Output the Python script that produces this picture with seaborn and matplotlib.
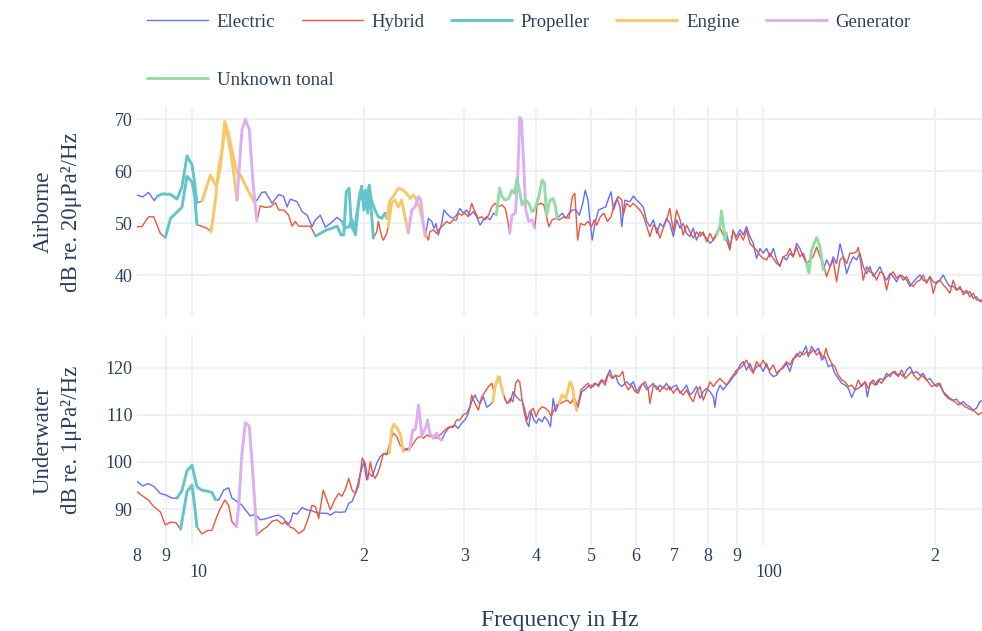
import matplotlib
matplotlib.use("Agg")
import matplotlib.pyplot as plt
from matplotlib.lines import Line2D
from matplotlib.transforms import ScaledTranslation
import pandas as pd
import seaborn as sns

# spectra: (frequency in Hz, level in dB)
air_electric = [
    (8.0, 55.4), (8.2, 55.0), (8.39, 55.9), (8.59, 54.3), (8.68, 55.1), (8.86, 55.6), (9.17, 55.5),
    (9.41, 54.6), (9.6, 56.9), (9.8, 62.9), (10.0, 61.2), (10.11, 57.6), (10.2, 53.9), (10.41, 54.2),
    (10.77, 59.2), (11.03, 57.1), (11.21, 60.5), (11.41, 69.5), (11.59, 67.2), (11.75, 64.0),
    (11.99, 59.6), (12.15, 59.2), (12.4, 57.3), (12.65, 55.4), (12.85, 54.1), (12.99, 54.4),
    (13.26, 55.9), (13.44, 56.0), (13.81, 53.8), (14.19, 55.5), (14.47, 55.1), (14.67, 53.1),
    (14.87, 54.6), (15.27, 54.1), (15.59, 52.2), (15.91, 51.5), (16.23, 49.3), (16.45, 50.6),
    (16.78, 51.5), (17.12, 49.2), (17.47, 49.9), (17.95, 51.1), (18.31, 50.3), (18.56, 49.0),
    (18.82, 49.3), (19.07, 50.6), (19.33, 47.7), (19.6, 54.4), (19.82, 57.1), (20.0, 52.5),
    (20.22, 54.4), (20.42, 57.0), (20.61, 54.4), (20.92, 52.5), (21.2, 51.2), (21.49, 50.9),
    (21.78, 51.9), (21.93, 50.9), (22.22, 54.4), (22.52, 55.1), (22.98, 56.7), (23.45, 56.3),
    (23.77, 55.7), (24.1, 54.7), (24.43, 55.4), (24.76, 54.4), (25.1, 52.5), (25.37, 50.3),
    (25.61, 47.4), (25.95, 50.9), (26.3, 50.3), (26.54, 49.0), (26.76, 49.9), (27.0, 47.7),
    (27.37, 49.9), (27.62, 52.5), (27.92, 51.9), (28.3, 51.2), (28.67, 50.9), (29.06, 51.5),
    (29.46, 52.8), (29.86, 51.9), (30.27, 52.5), (30.68, 51.5), (31.1, 52.2), (31.52, 51.2),
    (31.96, 49.6), (32.39, 50.6), (32.83, 51.2), (33.28, 50.6), (33.74, 51.9), (34.11, 51.5),
    (34.57, 56.7), (34.9, 55.1), (35.38, 54.4), (35.86, 54.7), (36.35, 56.3), (36.7, 55.7),
    (37.1, 58.6), (37.45, 56.3), (37.86, 53.5), (38.37, 54.4), (38.9, 53.8), (39.42, 52.2),
    (39.8, 52.5), (40.5, 55.1), (41.05, 58.3), (41.44, 57.6), (41.78, 51.5), (42.35, 54.4),
    (42.92, 54.7), (43.33, 53.1), (43.62, 50.9), (44.52, 51.9), (45.13, 50.9), (45.75, 51.9),
    (46.38, 52.5), (47.03, 52.5), (47.69, 51.5), (48.36, 53.8), (48.84, 56.3), (49.39, 54.4),
    (49.74, 50.9), (50.23, 46.7), (50.8, 49.9), (51.53, 52.5), (52.28, 52.8), (53.04, 53.1),
    (53.81, 55.1), (54.2, 56.0), (54.75, 52.5), (55.56, 54.7), (56.19, 53.1), (56.6, 49.3),
    (57.3, 54.4), (58.5, 54.1), (59.3, 55.2), (60.1, 54.4), (60.9, 53.8), (61.7, 53.1), (62.6, 50.3),
    (63.4, 49.3), (64.3, 50.6), (65.2, 48.0), (66.0, 49.9), (66.9, 49.3), (67.8, 50.9), (68.7, 49.9),
    (69.7, 47.4), (70.6, 50.6), (71.6, 49.0), (72.5, 49.9), (73.5, 48.0), (74.5, 47.4), (75.5, 49.0),
    (76.5, 46.7), (77.6, 48.3), (78.6, 47.7), (79.7, 47.1), (80.8, 46.1), (81.9, 46.7), (83.0, 47.7),
    (84.1, 49.5), (84.6, 52.3), (85.2, 49.9), (85.8, 46.8), (86.4, 48.0), (87.5, 45.4), (88.7, 48.3),
    (89.9, 47.4), (91.2, 48.7), (92.4, 47.7), (93.6, 49.3), (94.9, 47.4), (96.2, 46.1), (97.5, 43.2),
    (98.8, 45.1), (100.1, 44.2), (101.5, 45.1), (102.9, 43.5), (104.3, 45.1), (105.7, 42.9),
    (107.1, 41.6), (108.5, 43.5), (110.0, 42.9), (111.5, 44.2), (113.0, 43.5), (114.6, 46.1),
    (116.1, 45.1), (117.7, 43.5), (119.3, 42.2), (120.4, 40.4), (121.7, 44.8), (124.2, 47.2),
    (125.9, 45.4), (127.6, 41.0), (129.3, 42.9), (131.1, 41.6), (132.8, 43.5), (134.6, 42.2),
    (136.5, 46.0), (138.3, 43.5), (140.2, 40.3), (142.1, 42.2), (144.0, 43.5), (145.9, 42.9),
    (147.9, 44.2), (149.9, 41.6), (152.0, 40.3), (154.0, 41.6), (156.1, 39.7), (158.2, 40.6),
    (160.3, 41.6), (162.5, 40.0), (164.7, 39.0), (167.0, 40.3), (169.2, 39.7), (171.5, 38.7),
    (173.9, 40.0), (176.2, 39.7), (178.6, 39.0), (181.0, 37.8), (183.5, 38.7), (185.9, 39.4),
    (188.4, 40.0), (190.9, 39.0), (193.5, 38.7), (196.2, 39.7), (198.8, 38.7), (201.5, 38.4),
    (204.2, 39.0), (207.0, 40.0), (209.8, 38.7), (212.6, 37.8), (215.5, 37.8), (218.4, 37.1),
    (221.4, 37.4), (224.4, 36.8), (227.4, 36.5), (230.4, 36.8), (233.6, 35.5), (236.7, 35.8),
    (240.0, 34.9), (242.0, 35.3),
]

air_hybrid = [
    (8.0, 49.3), (8.17, 49.3), (8.39, 51.2), (8.57, 51.2), (8.8, 48.0), (8.98, 47.2), (9.17, 50.9),
    (9.37, 51.9), (9.6, 53.0), (9.8, 59.0), (10.0, 57.9), (10.11, 55.1), (10.2, 49.7), (10.62, 49.0),
    (10.8, 48.3), (10.99, 54.4), (11.14, 60.8), (11.29, 64.0), (11.41, 67.9), (11.52, 67.2),
    (11.67, 64.0), (11.83, 59.6), (11.99, 54.4), (12.23, 67.9), (12.4, 69.9), (12.6, 68.0),
    (12.79, 57.6), (12.99, 50.4), (13.17, 53.3), (13.44, 53.0), (13.72, 53.1), (14.0, 53.9),
    (14.19, 52.5), (14.47, 52.5), (14.77, 51.5), (14.97, 49.4), (15.17, 50.3), (15.38, 49.4),
    (15.69, 49.4), (16.12, 49.4), (16.45, 47.5), (16.78, 48.0), (17.23, 48.7), (17.6, 49.0),
    (17.95, 49.4), (18.24, 47.7), (18.44, 47.7), (18.63, 56.0), (18.84, 56.7), (19.02, 49.3),
    (19.25, 48.3), (19.45, 51.9), (19.72, 56.0), (19.93, 54.4), (20.12, 56.3), (20.31, 51.9),
    (20.45, 57.3), (20.62, 51.9), (20.78, 47.1), (21.06, 48.3), (21.2, 50.3), (21.49, 47.4),
    (21.64, 46.7), (21.93, 48.0), (22.07, 49.3), (22.37, 53.8), (22.67, 54.4), (22.98, 53.1),
    (23.29, 54.4), (23.61, 51.2), (23.93, 48.1), (24.26, 52.5), (24.59, 53.1), (24.93, 55.1),
    (25.17, 54.4), (25.44, 49.3), (25.71, 47.7), (25.95, 46.7), (26.1, 48.3), (26.47, 48.7),
    (26.82, 48.0), (27.18, 49.0), (27.55, 49.6), (27.92, 50.3), (28.3, 49.9), (28.67, 50.6),
    (29.06, 50.6), (29.26, 51.9), (29.66, 51.5), (30.07, 51.9), (30.48, 51.2), (30.89, 53.8),
    (31.31, 52.2), (31.74, 50.9), (32.17, 51.2), (32.61, 50.6), (33.06, 51.5), (33.51, 53.1),
    (33.97, 53.8), (34.43, 53.1), (34.9, 53.5), (35.38, 52.8), (35.72, 50.6), (36.01, 48.0),
    (36.35, 51.5), (36.85, 51.9), (37.2, 58.9), (37.5, 70.3), (37.76, 69.8), (38.12, 60.8),
    (38.42, 52.5), (38.9, 50.3), (39.42, 50.6), (39.85, 49.0), (40.23, 53.5), (40.78, 53.8),
    (41.33, 53.5), (41.78, 51.2), (42.18, 49.3), (42.75, 50.6), (43.33, 50.9), (43.92, 50.6),
    (44.82, 51.2), (45.75, 50.9), (46.38, 55.1), (46.83, 55.7), (47.36, 46.7), (47.89, 49.9),
    (48.7, 49.6), (49.39, 50.3), (50.09, 49.3), (50.66, 50.6), (51.17, 49.6), (51.9, 51.2),
    (52.66, 51.9), (53.42, 50.3), (54.2, 51.2), (54.99, 53.8), (55.8, 55.1), (56.6, 54.4),
    (56.9, 51.5), (57.7, 53.8), (58.5, 53.1), (59.3, 53.8), (60.1, 53.1), (60.9, 52.5), (61.7, 51.5),
    (62.6, 49.3), (63.4, 47.4), (64.3, 49.6), (65.2, 49.0), (66.0, 47.1), (66.9, 49.0), (67.8, 50.6),
    (68.7, 52.8), (69.7, 48.3), (70.6, 52.5), (71.6, 50.6), (72.5, 47.7), (73.5, 49.6), (74.5, 48.3),
    (75.5, 47.1), (76.5, 48.3), (77.6, 47.4), (78.6, 48.3), (79.7, 46.4), (80.8, 48.0), (81.9, 46.7),
    (83.0, 48.3), (84.1, 49.0), (85.2, 47.7), (86.4, 46.7), (87.5, 44.8), (88.7, 48.7), (89.9, 46.7),
    (91.2, 48.0), (92.4, 46.7), (93.6, 48.7), (94.9, 46.1), (96.2, 45.4), (97.5, 44.8), (98.8, 43.8),
    (100.1, 43.2), (101.5, 42.9), (102.9, 44.2), (104.3, 43.2), (105.7, 42.2), (107.1, 41.9),
    (108.5, 43.5), (110.0, 43.8), (111.5, 45.1), (113.0, 43.5), (114.6, 45.4), (116.1, 43.5),
    (117.7, 44.2), (119.3, 42.2), (120.9, 42.9), (122.5, 43.5), (124.2, 45.4), (125.9, 43.5),
    (127.6, 42.2), (129.3, 39.7), (131.1, 41.6), (132.8, 42.9), (134.6, 38.7), (136.5, 42.9),
    (138.3, 43.5), (140.2, 42.2), (142.1, 44.2), (144.0, 44.2), (145.9, 44.5), (146.9, 45.3),
    (147.9, 43.5), (149.9, 39.0), (152.0, 41.6), (154.0, 40.6), (156.1, 40.3), (158.2, 39.0),
    (160.3, 40.6), (162.5, 40.3), (164.7, 37.1), (167.0, 40.0), (169.2, 40.6), (171.5, 39.4),
    (173.9, 40.0), (176.2, 39.0), (178.6, 39.7), (181.0, 38.4), (183.5, 37.8), (185.9, 38.7),
    (188.4, 39.0), (190.9, 40.0), (193.5, 38.4), (196.2, 39.7), (198.8, 36.5), (201.5, 38.7),
    (204.2, 39.0), (207.0, 38.1), (209.8, 37.4), (212.6, 36.5), (215.5, 39.0), (218.4, 37.1),
    (221.4, 37.8), (224.4, 36.2), (227.4, 37.1), (230.4, 35.8), (233.6, 36.5), (236.7, 35.2),
    (240.0, 35.2), (242.0, 34.8),
]

water_electric = [
    (8.0, 95.9), (8.2, 94.9), (8.39, 95.4), (8.59, 94.7), (8.8, 93.3), (8.98, 93.0), (9.23, 92.3),
    (9.41, 92.3), (9.6, 93.9), (9.8, 98.1), (10.0, 99.3), (10.2, 94.7), (10.41, 94.0), (10.62, 93.8),
    (10.84, 93.5), (10.99, 92.0), (11.14, 91.9), (11.36, 94.0), (11.59, 94.5), (11.75, 92.3),
    (11.99, 91.6), (12.23, 90.8), (12.48, 89.4), (12.65, 88.5), (12.91, 88.9), (13.17, 87.7),
    (13.53, 88.0), (13.91, 88.5), (14.19, 88.7), (14.47, 88.0), (14.67, 86.6), (14.87, 87.3),
    (15.03, 89.2), (15.27, 88.9), (15.59, 90.3), (15.91, 89.8), (16.23, 89.6), (16.56, 89.2),
    (16.89, 89.1), (17.23, 89.1), (17.47, 88.7), (17.83, 89.4), (18.19, 89.3), (18.56, 89.4),
    (18.82, 91.2), (19.07, 91.6), (19.33, 93.3), (19.72, 97.6), (20.0, 100.0), (20.22, 96.2),
    (20.42, 97.6), (20.67, 96.9), (20.78, 97.6), (21.06, 99.7), (21.35, 101.1), (21.7, 101.8),
    (21.93, 101.8), (22.16, 101.8), (22.37, 106.8), (22.58, 108.0), (22.89, 107.1), (23.2, 105.7),
    (23.45, 102.2), (23.77, 102.9), (24.03, 102.5), (24.36, 106.8), (24.59, 106.8), (24.76, 108.9),
    (24.93, 112.1), (25.1, 108.9), (25.27, 105.4), (25.51, 106.8), (25.71, 107.5), (25.85, 108.9),
    (26.1, 106.1), (26.47, 105.0), (26.82, 106.1), (27.1, 105.0), (27.37, 104.6), (27.74, 106.1),
    (28.11, 107.1), (28.49, 107.5), (28.87, 107.8), (29.26, 107.1), (29.66, 108.2), (30.07, 108.9),
    (30.48, 110.3), (30.89, 112.8), (31.31, 114.2), (31.61, 113.1), (31.96, 112.4), (32.39, 113.8),
    (32.83, 111.6), (33.28, 112.1), (33.65, 112.8), (33.97, 116.3), (34.43, 118.1), (34.76, 116.3),
    (35.14, 114.2), (35.62, 112.4), (36.1, 112.8), (36.5, 114.9), (37.0, 113.8), (37.5, 113.1),
    (37.86, 113.1), (38.22, 110.3), (38.53, 108.5), (38.9, 107.5), (39.26, 110.7), (39.69, 108.9),
    (40.12, 108.2), (40.5, 109.2), (41.05, 108.5), (41.44, 109.6), (41.9, 108.9), (42.46, 107.5),
    (42.92, 113.5), (43.33, 110.7), (43.92, 112.4), (44.52, 114.2), (45.13, 113.5), (45.57, 115.3),
    (45.94, 117.0), (46.38, 116.0), (46.83, 112.4), (47.23, 110.9), (47.69, 112.8), (48.16, 114.9),
    (48.7, 115.3), (49.39, 116.0), (49.95, 116.3), (50.44, 116.0), (50.95, 116.7), (51.53, 116.0),
    (52.28, 117.4), (52.89, 117.0), (53.42, 118.4), (53.97, 119.5), (54.59, 117.7), (55.23, 118.4),
    (55.8, 116.7), (56.6, 116.0), (57.7, 117.0), (58.5, 116.3), (59.3, 117.0), (60.1, 114.9),
    (60.9, 116.0), (61.7, 116.7), (62.6, 115.3), (63.4, 116.0), (64.3, 116.7), (65.2, 115.3),
    (66.0, 116.3), (66.9, 115.6), (67.8, 116.7), (68.7, 115.3), (69.7, 116.0), (70.6, 116.3),
    (71.6, 114.6), (72.5, 115.3), (73.5, 116.3), (74.5, 114.2), (75.5, 114.9), (76.5, 116.0),
    (77.6, 113.5), (78.6, 114.9), (79.7, 115.6), (80.8, 114.9), (81.9, 113.8), (82.4, 111.6),
    (83.0, 114.6), (84.1, 116.3), (85.2, 115.3), (86.4, 116.3), (87.5, 117.0), (88.7, 118.1),
    (89.9, 118.8), (91.2, 120.6), (92.4, 121.3), (93.6, 119.5), (94.9, 120.9), (96.2, 119.2),
    (97.5, 120.2), (98.8, 120.6), (100.1, 119.2), (101.5, 120.9), (102.9, 118.8), (104.3, 118.1),
    (105.7, 118.4), (107.1, 119.5), (108.5, 119.9), (110.0, 120.9), (111.5, 119.2), (113.0, 121.6),
    (114.6, 123.0), (116.1, 122.3), (117.7, 123.4), (119.0, 124.6), (120.1, 122.3), (121.7, 124.5),
    (123.4, 123.4), (125.1, 124.1), (126.8, 121.6), (128.5, 122.3), (130.2, 120.2), (132.0, 120.6),
    (133.7, 118.8), (135.6, 117.7), (137.4, 116.7), (139.3, 116.3), (141.2, 115.6), (143.1, 113.7),
    (145.0, 115.3), (146.9, 115.6), (148.9, 116.3), (151.0, 117.0), (152.4, 113.8), (154.0, 116.7),
    (156.1, 117.4), (158.2, 116.3), (160.3, 117.7), (162.5, 117.4), (164.7, 118.8), (167.0, 118.1),
    (169.2, 119.2), (171.5, 118.4), (173.9, 118.8), (176.2, 118.1), (178.6, 119.5), (181.0, 120.2),
    (183.5, 118.8), (185.9, 119.2), (188.4, 118.4), (190.9, 118.8), (193.5, 117.4), (196.2, 117.7),
    (198.8, 116.7), (201.5, 116.0), (204.2, 116.7), (207.0, 114.9), (209.8, 114.2), (212.6, 113.5),
    (215.5, 113.1), (218.4, 113.3), (221.4, 112.4), (224.4, 112.8), (227.4, 112.1), (230.4, 111.7),
    (233.6, 111.0), (236.7, 111.4), (240.0, 112.8), (242.0, 113.0),
]

water_hybrid = [
    (8.0, 93.7), (8.23, 92.6), (8.39, 91.9), (8.57, 90.5), (8.8, 89.4), (8.98, 86.6), (9.17, 87.2),
    (9.37, 87.1), (9.55, 85.7), (9.8, 93.7), (10.0, 95.1), (10.11, 90.5), (10.2, 86.2), (10.41, 84.7),
    (10.62, 85.4), (10.84, 85.5), (11.06, 88.5), (11.21, 90.1), (11.41, 91.9), (11.59, 90.8),
    (11.75, 87.3), (11.96, 86.2), (12.07, 90.5), (12.23, 101.8), (12.4, 108.3), (12.6, 107.6),
    (12.79, 96.9), (12.99, 84.5), (13.26, 85.5), (13.53, 86.2), (13.81, 87.4), (14.09, 87.7),
    (14.38, 86.8), (14.63, 87.4), (14.87, 86.1), (15.07, 85.9), (15.38, 84.8), (15.69, 85.5),
    (15.91, 87.3), (16.23, 90.8), (16.45, 90.5), (16.67, 88.0), (16.97, 94.0), (17.23, 91.9),
    (17.47, 89.8), (17.77, 91.9), (18.07, 93.3), (18.31, 92.7), (18.56, 94.2), (18.82, 96.5),
    (19.07, 94.0), (19.33, 93.3), (19.6, 95.1), (19.87, 100.8), (20.12, 99.7), (20.31, 96.2),
    (20.53, 100.0), (20.72, 97.6), (20.92, 96.5), (21.12, 97.4), (21.35, 99.0), (21.64, 101.8),
    (21.93, 101.5), (22.22, 104.3), (22.52, 106.1), (22.83, 105.4), (23.14, 103.6), (23.45, 102.9),
    (23.77, 102.5), (24.1, 102.9), (24.43, 103.9), (24.76, 105.0), (25.1, 105.4), (25.44, 105.0),
    (25.78, 105.7), (26.1, 105.4), (26.47, 105.4), (26.82, 105.0), (27.18, 105.7), (27.55, 106.4),
    (27.92, 107.1), (28.3, 107.5), (28.67, 107.3), (29.06, 108.9), (29.46, 108.9), (29.86, 110.0),
    (30.27, 110.3), (30.68, 111.7), (30.89, 114.2), (31.31, 112.4), (31.74, 111.0), (32.17, 113.8),
    (32.61, 114.9), (33.06, 116.0), (33.51, 116.7), (33.83, 114.6), (34.2, 117.4), (34.57, 118.1),
    (34.9, 115.6), (35.38, 113.1), (35.72, 112.4), (36.1, 113.5), (36.5, 112.8), (36.9, 116.7),
    (37.2, 117.4), (37.5, 117.0), (37.86, 113.1), (38.22, 111.4), (38.63, 108.9), (39.05, 110.7),
    (39.58, 111.4), (40.07, 109.6), (40.5, 111.0), (41.05, 111.7), (41.61, 111.4), (42.18, 110.7),
    (42.58, 109.6), (43.04, 111.0), (43.51, 112.1), (44.22, 112.4), (44.82, 112.8), (45.44, 113.1),
    (46.06, 112.4), (46.71, 113.8), (47.36, 111.7), (48.02, 115.3), (48.7, 116.0), (49.39, 116.7),
    (49.95, 115.6), (50.66, 116.7), (51.38, 116.3), (52.13, 117.4), (52.89, 116.3), (53.66, 118.8),
    (54.43, 117.7), (55.23, 118.4), (56.03, 118.1), (56.84, 119.2), (57.3, 116.7), (58.1, 115.3),
    (58.9, 116.3), (59.7, 114.9), (60.5, 114.6), (61.3, 116.3), (62.2, 117.0), (63.0, 115.3),
    (63.4, 112.4), (64.3, 116.3), (65.2, 116.0), (66.0, 114.9), (66.9, 116.0), (67.8, 115.3),
    (68.7, 116.0), (69.7, 114.6), (70.6, 115.6), (71.6, 114.9), (72.5, 114.2), (73.5, 115.3),
    (74.5, 113.8), (75.5, 112.8), (76.5, 114.9), (77.6, 116.0), (78.6, 113.1), (79.7, 114.9),
    (80.8, 117.0), (81.9, 116.0), (83.0, 117.0), (84.1, 117.7), (85.2, 117.0), (86.4, 116.3),
    (87.5, 117.4), (88.7, 118.4), (89.9, 119.5), (91.2, 119.9), (92.4, 120.6), (93.6, 121.6),
    (94.9, 119.9), (96.2, 118.8), (97.5, 121.3), (98.8, 120.2), (100.1, 121.6), (101.5, 120.2),
    (102.9, 119.5), (104.3, 120.6), (105.7, 118.8), (107.1, 119.5), (108.5, 120.2), (110.0, 121.3),
    (111.5, 120.6), (113.0, 122.0), (114.6, 122.3), (116.1, 123.4), (117.7, 122.7), (119.3, 123.4),
    (120.9, 123.0), (122.5, 123.8), (124.2, 122.7), (125.9, 123.4), (127.6, 122.0), (129.0, 124.1),
    (130.2, 122.3), (132.0, 120.9), (133.7, 120.2), (135.6, 118.4), (137.4, 117.4), (139.3, 117.0),
    (141.2, 116.0), (143.1, 116.3), (145.0, 115.3), (146.9, 117.4), (148.9, 116.0), (151.0, 117.0),
    (153.0, 115.6), (155.0, 117.0), (157.1, 116.3), (159.2, 117.4), (161.4, 116.7), (163.6, 117.7),
    (165.8, 118.4), (168.1, 118.8), (170.4, 119.2), (172.7, 118.1), (175.0, 119.5), (177.4, 117.7),
    (179.8, 118.4), (182.2, 119.2), (184.7, 118.1), (187.2, 117.4), (189.7, 118.4), (192.2, 117.7),
    (194.8, 117.0), (197.5, 116.0), (200.2, 116.3), (202.8, 116.7), (205.6, 115.6), (208.4, 114.2),
    (211.2, 113.5), (214.1, 113.1), (216.9, 112.8), (219.9, 112.1), (222.9, 112.4), (225.9, 111.7),
    (228.9, 111.4), (232.0, 111.0), (235.1, 110.7), (238.3, 110.0), (240.5, 110.3), (242.0, 110.5),
]

# frequency bands attributed to a source: (category, spectrum, from Hz, to Hz)
air_bands = [
    ("Propeller", "Electric", 8.68, 10.2), ("Engine", "Electric", 10.41, 12.85),
    ("Propeller", "Electric", 18.31, 21.93), ("Engine", "Electric", 21.93, 25.61),
    ("Unknown tonal", "Electric", 34.11, 43.62), ("Unknown tonal", "Electric", 83.0, 86.4),
    ("Unknown tonal", "Electric", 119.3, 127.6),
    ("Propeller", "Hybrid", 8.98, 10.2), ("Engine", "Hybrid", 10.8, 11.99),
    ("Generator", "Hybrid", 11.99, 12.99), ("Propeller", "Hybrid", 16.45, 20.78),
    ("Engine", "Hybrid", 22.07, 23.93), ("Generator", "Hybrid", 23.93, 25.71),
    ("Generator", "Hybrid", 36.01, 39.85),
]
water_bands = [
    ("Propeller", "Electric", 9.41, 10.99), ("Engine", "Electric", 22.16, 23.45),
    ("Generator", "Electric", 24.03, 27.37), ("Engine", "Electric", 33.65, 35.14),
    ("Engine", "Electric", 43.92, 47.23),
    ("Propeller", "Hybrid", 9.55, 10.2), ("Generator", "Hybrid", 11.96, 12.99),
]

vessels = ["Electric", "Hybrid"]
sources = ["Propeller", "Engine", "Generator", "Unknown tonal"]
colors = {"Electric": "#636EFA", "Hybrid": "#EF553B", "Propeller": "#62C5CB",
          "Engine": "#F6C86A", "Generator": "#DCAEF2", "Unknown tonal": "#8EDEA6"}
txt = "#2a3f5f"
grid = "#EBF0F8"


def build(spectra, bands):
    base, marked = [], []
    for name, pts in spectra.items():
        d = pd.DataFrame(pts, columns=["freq", "level"])
        d["vessel"] = name
        base.append(d)
        for k, (cat, who, lo, hi) in enumerate(bands):
            if who != name:
                continue
            seg = d[(d.freq >= lo - 1e-6) & (d.freq <= hi + 1e-6)].copy()
            seg["source"] = cat
            seg["seg"] = f"{name}{k}"
            marked.append(seg)
    return pd.concat(base), pd.concat(marked)


sns.set_theme(style="white")
plt.rcParams["font.family"] = ["Liberation Serif", "DejaVu Serif"]

fig = plt.figure(figsize=(9.82, 6.31), dpi=100)
ax_air = fig.add_axes([0.1392, 0.4976, 0.8608, 0.3328])
ax_wat = fig.add_axes([0.1392, 0.1363, 0.8608, 0.3328])

panels = [
    (ax_air, {"Electric": air_electric, "Hybrid": air_hybrid}, air_bands, (31.92, 72.31), [40, 50, 60, 70],
     "Airborne\ndB re. 20μPa²/Hz"),
    (ax_wat, {"Electric": water_electric, "Hybrid": water_hybrid}, water_bands, (82.36, 126.94),
     [90, 100, 110, 120], "Underwater\ndB re. 1μPa²/Hz"),
]

minor_ticks = [8, 9, 20, 30, 40, 50, 60, 70, 80, 90, 200]
minor_labels = ["8", "9", "2", "3", "4", "5", "6", "7", "8", "9", "2"]

for ax, spectra, bands, ylim, yticks, ylab in panels:
    base, marked = build(spectra, bands)
    sns.lineplot(data=base, x="freq", y="level", hue="vessel", hue_order=vessels, palette=colors,
                 estimator=None, sort=False, lw=1.0, legend=False, ax=ax, zorder=3)
    sns.lineplot(data=marked, x="freq", y="level", hue="source", hue_order=sources, units="seg",
                 palette=colors, estimator=None, sort=False, lw=2.1, legend=False, ax=ax, zorder=4)
    ax.set_xscale("log")
    ax.set_xlim(8.0, 242)
    ax.set_ylim(*ylim)
    ax.set_xticks([10, 100], ["10", "100"])
    ax.set_xticks(minor_ticks, minor_labels, minor=True)
    ax.set_yticks(yticks)
    ax.grid(True, which="both", axis="x", color=grid, lw=1.3, zorder=0)
    ax.grid(True, which="major", axis="y", color=grid, lw=1.3, zorder=0)
    ax.xaxis.get_minor_ticks()[0].gridline.set_visible(False)
    for s in ax.spines.values():
        s.set_visible(False)
    ax.tick_params(axis="both", which="both", length=0, labelsize=13, labelcolor=txt)
    ax.tick_params(axis="y", pad=3)
    ax.tick_params(axis="x", which="minor", pad=2.5)
    ax.tick_params(axis="x", which="major", pad=14)
    ax.set_ylabel(ylab, fontsize=16.5, color=txt, va="center", linespacing=1.45)
    ax.yaxis.set_label_coords(-0.0937, 0.5)
    ax.set_xlabel("")

ax_air.tick_params(axis="x", which="both", labelbottom=False)
# the decade labels sit a little right of their ticks in the reference
shift = ScaledTranslation(6 / 100, 0, fig.dpi_scale_trans)
for lbl in ax_wat.xaxis.get_majorticklabels():
    lbl.set_transform(lbl.get_transform() + shift)

ax_wat.set_xlabel("Frequency in Hz", fontsize=17, color=txt, va="center")
ax_wat.xaxis.set_label_coords(0.5, -0.36)

handles = [Line2D([], [], color=colors[n], lw=1.0 if n in vessels else 2.1) for n in vessels + sources]
names = vessels + sources
leg_kw = dict(loc="center left", frameon=False, fontsize=13.5, handlelength=3.25, handletextpad=0.48,
              columnspacing=1.4, borderpad=0, borderaxespad=0, labelcolor=txt)
fig.legend(handles[:5], names[:5], ncol=5, bbox_to_anchor=(147 / 982, 1 - 22 / 631), **leg_kw)
fig.legend(handles[5:], names[5:], ncol=1, bbox_to_anchor=(147 / 982, 1 - 80 / 631), **leg_kw)

fig.savefig("out.png", dpi=100, facecolor="white")
